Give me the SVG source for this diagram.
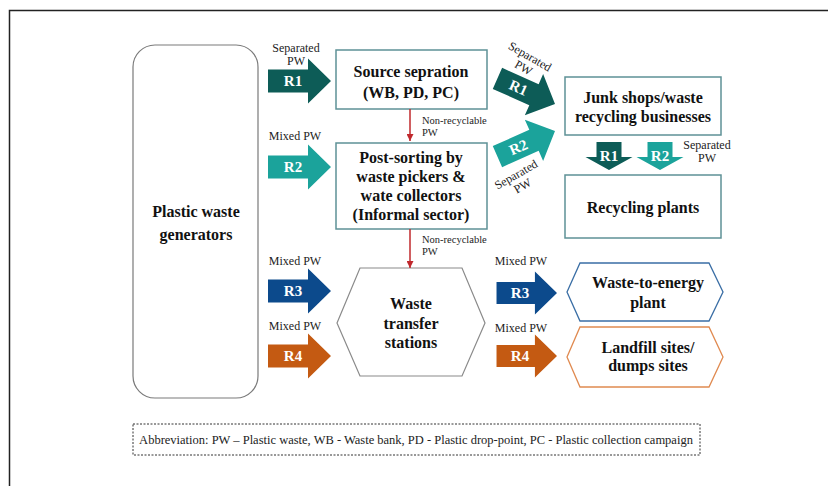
<svg xmlns="http://www.w3.org/2000/svg" width="828" height="486" viewBox="0 0 828 486">
<style>
.node{font-family:"Liberation Serif","Times New Roman",serif;font-weight:bold;font-size:16px;fill:#111;text-anchor:middle}
.lbl{font-family:"Liberation Serif","Times New Roman",serif;font-size:12px;fill:#222;text-anchor:middle}
.nr{font-family:"Liberation Serif","Times New Roman",serif;font-size:10.5px;fill:#222}
.rl{font-family:"Liberation Serif","Times New Roman",serif;font-weight:bold;font-size:15px;fill:#fff;text-anchor:middle}
.box{fill:#fff;stroke:#5e9196;stroke-width:1.5}
.c1{fill:#0d5c57}.c2{fill:#1ba39b}.c3{fill:#0c4a8c}.c4{fill:#c45a12}
.red{stroke:#c0282d;stroke-width:1.5;fill:none}
</style>
<defs>
<path id="arr" d="M-63,-11.5 H-23 V-22.5 L0,0 L-23,22.5 V11.5 H-63 Z"/>
<path id="darr" d="M-12.5,-28 H12.5 V-13 H23.5 L0,0 L-23.5,-13 H-12.5 Z"/>
<marker id="mh" viewBox="0 0 10 10" refX="10" refY="5" markerWidth="7" markerHeight="7" markerUnits="userSpaceOnUse" orient="auto">
<path d="M0,0 L10,5 L0,10 Z" fill="#c0282d"/>
</marker>
</defs>
<rect width="828" height="486" fill="#fff"/>
<path d="M9.5,486 V10.5 H828" fill="none" stroke="#222" stroke-width="1.5"/>

<g id="generators">
<rect x="133" y="45" width="125" height="353" rx="22" fill="#fff" stroke="#7a7a7a" stroke-width="1.2"/>
<text class="node" x="196" y="217">Plastic waste</text>
<text class="node" x="196" y="240">generators</text>
</g>

<g id="source">
<rect class="box" x="336" y="50" width="151" height="59"/>
<text class="node" x="411" y="77">Source sepration</text>
<text class="node" x="411" y="98">(WB, PD, PC)</text>
</g>

<g id="postsorting">
<rect class="box" x="336" y="143" width="151" height="86"/>
<text class="node" x="411" y="163">Post-sorting by</text>
<text class="node" x="411" y="182">waste pickers &amp;</text>
<text class="node" x="411" y="201">wate collectors</text>
<text class="node" x="411" y="220">(Informal sector)</text>
</g>

<g id="junkshops">
<rect class="box" x="565" y="77" width="156" height="58"/>
<text class="node" x="643" y="103">Junk shops/waste</text>
<text class="node" x="643" y="122">recycling businesses</text>
</g>

<g id="recycling">
<rect class="box" x="565" y="175" width="156" height="63"/>
<text class="node" x="643" y="213">Recycling plants</text>
</g>

<g id="transfer">
<polygon points="337,323 360,268 462,268 485,323 462,376 360,376" fill="#fff" stroke="#8a8a8a" stroke-width="1.2"/>
<text class="node" x="411" y="309">Waste</text>
<text class="node" x="411" y="329">transfer</text>
<text class="node" x="411" y="348">stations</text>
</g>

<g id="wte">
<polygon points="567,292 580,263 709,263 723,292 709,321 580,321" fill="#fff" stroke="#3a6ea5" stroke-width="1.3"/>
<text class="node" x="648" y="288">Waste-to-energy</text>
<text class="node" x="648" y="308">plant</text>
</g>

<g id="landfill">
<polygon points="567,357 580,327 709,327 723,357 709,387 580,387" fill="#fff" stroke="#e08a50" stroke-width="1.3"/>
<text class="node" x="648" y="353">Landfill sites/</text>
<text class="node" x="648" y="371">dumps sites</text>
</g>

<g id="connectors">
<line class="red" x1="410" y1="109" x2="410" y2="141" marker-end="url(#mh)"/>
<text class="nr" x="422" y="124">Non-recyclable</text>
<text class="nr" x="422" y="136">PW</text>
<line class="red" x1="410" y1="229" x2="410" y2="268" marker-end="url(#mh)"/>
<text class="nr" x="422" y="243">Non-recyclable</text>
<text class="nr" x="422" y="255">PW</text>

<text class="lbl" x="296" y="52">Separated</text>
<text class="lbl" x="296" y="65">PW</text>
<use href="#arr" class="c1" transform="translate(331,81)"/>
<text class="rl" x="293" y="86">R1</text>

<text class="lbl" x="295" y="140">Mixed PW</text>
<use href="#arr" class="c2" transform="translate(331,167)"/>
<text class="rl" x="293" y="172">R2</text>

<text class="lbl" x="295" y="265">Mixed PW</text>
<use href="#arr" class="c3" transform="translate(331,291)"/>
<text class="rl" x="293" y="296">R3</text>

<text class="lbl" x="295" y="330">Mixed PW</text>
<use href="#arr" class="c4" transform="translate(331,356)"/>
<text class="rl" x="293" y="361">R4</text>

<text class="lbl" x="521" y="265">Mixed PW</text>
<use href="#arr" class="c3" transform="translate(557,293) scale(0.96)"/>
<text class="rl" x="520" y="298">R3</text>

<text class="lbl" x="521" y="332">Mixed PW</text>
<use href="#arr" class="c4" transform="translate(557,356) scale(0.96)"/>
<text class="rl" x="520" y="361">R4</text>

<g transform="translate(555,104) rotate(24)">
<use href="#arr" class="c1"/>
<text class="rl" x="-40" y="5">R1</text>
</g>
<g transform="translate(528,60) rotate(30)">
<text class="lbl" x="0" y="0">Separated</text>
<text class="lbl" x="0" y="13">PW</text>
</g>

<g transform="translate(555,131) rotate(-24)">
<use href="#arr" class="c2"/>
<text class="rl" x="-40" y="5">R2</text>
</g>
<g transform="translate(518,178) rotate(-30)">
<text class="lbl" x="0" y="0">Separated</text>
<text class="lbl" x="0" y="13">PW</text>
</g>

<use href="#darr" class="c1" transform="translate(609,170)"/>
<text class="rl" x="609" y="161">R1</text>
<use href="#darr" class="c2" transform="translate(660,170)"/>
<text class="rl" x="660" y="161">R2</text>
<text class="lbl" x="707" y="149">Separated</text>
<text class="lbl" x="707" y="162">PW</text>
</g>

<g id="abbreviation">
<rect x="133" y="424" width="567" height="31" fill="#fff" stroke="#333" stroke-width="1" stroke-dasharray="2,1.5"/>
<text x="416" y="444" style="font-family:'Liberation Serif','Times New Roman',serif;font-size:12.5px;fill:#222;text-anchor:middle">Abbreviation: PW – Plastic waste, WB - Waste bank, PD - Plastic drop-point, PC - Plastic collection campaign</text>
</g>
</svg>
